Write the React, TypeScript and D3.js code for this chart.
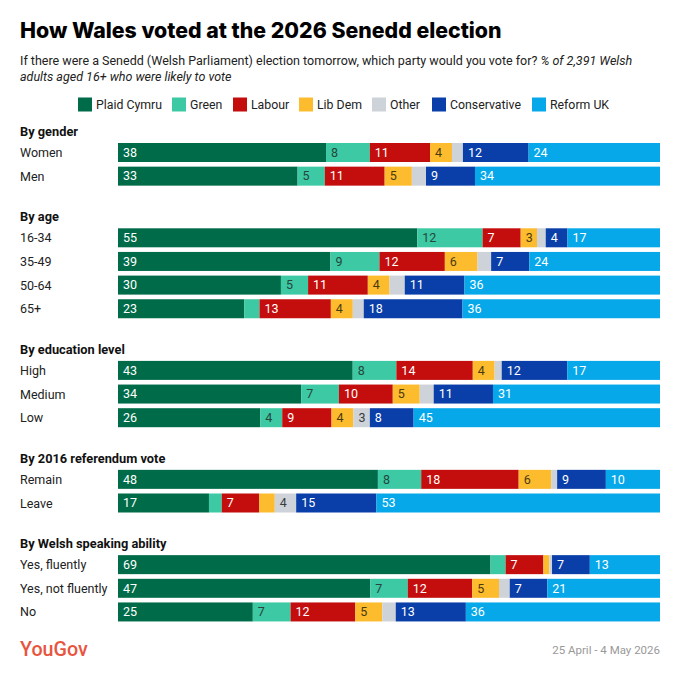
import * as d3 from 'd3'

const WIDTH = 680
const HEIGHT = 679

const PARTIES = ['Plaid Cymru', 'Green', 'Labour', 'Lib Dem', 'Other', 'Conservative', 'Reform UK']

const PARTY_COLORS = ['#006b48', '#3cc9a3', '#c40d0d', '#fdbb2e', '#ced2d9', '#0a3ea8', '#06a8ea']
const LABEL_COLORS = ['#fff', '#27453b', '#fff', '#4a3a10', '#3a3a3a', '#fff', '#fff']

const GROUPS = [
  'By gender',
  'By age',
  'By education level',
  'By 2016 referendum vote',
  'By Welsh speaking ability',
]

const ROW_LABELS = [
  ['Women', 'Men'],
  ['16-34', '35-49', '50-64', '65+'],
  ['High', 'Medium', 'Low'],
  ['Remain', 'Leave'],
  ['Yes, fluently', 'Yes, not fluently', 'No'],
]

// order: Plaid Cymru, Green, Labour, Lib Dem, Other, Conservative, Reform UK
// unlabelled slivers are estimated from their width
const ROW_VALUES = [
  [
    [38, 8, 11, 4, 2, 12, 24],
    [33, 5, 11, 5, 2.6, 9, 34],
  ],
  [
    [55, 12, 7, 3, 1.6, 4, 17],
    [39, 9, 12, 6, 2.5, 7, 24],
    [30, 5, 11, 4, 2.8, 11, 36],
    [23, 2.8, 13, 4, 2, 18, 36],
  ],
  [
    [43, 8, 14, 4, 1.3, 12, 17],
    [34, 7, 10, 5, 2.6, 11, 31],
    [26, 4, 9, 4, 3, 8, 45],
  ],
  [
    [48, 8, 18, 6, 1.1, 9, 10],
    [17, 2.4, 7, 2.9, 4, 15, 53],
  ],
  [
    [69, 2.8, 7, 1.1, 0.5, 7, 13],
    [47, 7, 12, 5, 2, 7, 21],
    [25, 7, 12, 5, 2.5, 13, 36],
  ],
]

const FONT = 'Roboto, "Noto Sans", sans-serif'

export default function App() {
  const barLeft = 118
  const barRight = 660
  const rowPitch = 23.65
  const barH = 19
  const groupGap = 38

  const x = d3.scaleLinear().domain([0, 1]).range([barLeft, barRight])

  const stack = d3
    .stack<number[]>()
    .keys(PARTIES.map((_, i) => String(i)))
    .value((d, k) => d[+k])
    .offset(d3.stackOffsetExpand)

  // slot units: one per row, headings add a fixed gap
  const y = d3.scaleLinear().domain([0, 1]).range([131.5, 131.5 + rowPitch])
  const gapUnits = groupGap / rowPitch

  let cursor = 0
  const groups = GROUPS.map((title, gi) => {
    const headY = y(cursor)
    const rows = ROW_VALUES[gi]
    const series = stack(rows)
    const rowEls = rows.map((vals, ri) => {
      const top = headY + 11.5 + ri * rowPitch
      return (
        <g key={ri}>
          <text x={20} y={top + barH / 2 + 4.5} fontSize={12.5} fill="#222">
            {ROW_LABELS[gi][ri]}
          </text>
          {series.map((s, pi) => {
            const x0 = x(s[ri][0])
            const x1 = x(s[ri][1])
            const v = vals[pi]
            return (
              <g key={pi}>
                <rect x={x0} y={top} width={Math.max(0, x1 - x0)} height={barH} fill={PARTY_COLORS[pi]} />
                {v >= 3 && (
                  <text x={x0 + 5} y={top + barH / 2 + 4.3} fontSize={12.5} fill={LABEL_COLORS[pi]}>
                    {v}
                  </text>
                )}
              </g>
            )
          })}
        </g>
      )
    })
    cursor += rows.length + gapUnits
    return (
      <g key={gi}>
        <text x={20} y={headY + 4.5} fontSize={12.8} fontWeight={700} fill="#111">
          {title}
        </text>
        {rowEls}
      </g>
    )
  })

  // legend, centred: swatch, 4px, text, 11px
  const legendW = [65, 32, 37, 44, 31, 71, 58]
  const legendTotal = d3.sum(legendW) + 18 * 7 + 11 * 6
  let lx = WIDTH / 2 + 3 - legendTotal / 2
  const legend = PARTIES.map((p, i) => {
    const gx = lx
    lx += 18 + legendW[i] + 11
    return (
      <g key={p} transform={`translate(${gx},97.5)`}>
        <rect width={14} height={14} fill={PARTY_COLORS[i]} />
        <text x={18} y={11.3} fontSize={12.3} fill="#222">
          {p}
        </text>
      </g>
    )
  })

  return (
    <svg
      width={WIDTH}
      height={HEIGHT}
      style={{ position: 'absolute', left: 0, top: 0, background: '#fff', fontFamily: FONT }}
    >
      <text x={20} y={37.5} fontSize={21.3} fontWeight={800} fill="#000" fontFamily="Inter, sans-serif">
        How Wales voted at the 2026 Senedd election
      </text>
      <text x={20} y={65} fontSize={12.5} fill="#222">
        If there were a Senedd (Welsh Parliament) election tomorrow, which party would you vote for?{' '}
        <tspan fontStyle="italic">% of 2,391 Welsh</tspan>
      </text>
      <text x={20} y={81} fontSize={12.5} fill="#222" fontStyle="italic">
        adults aged 16+ who were likely to vote
      </text>
      {legend}
      {groups}
      <text x={20} y={656} fontSize={19.7} fontWeight={500} fill="#e8553f">
        YouGov
      </text>
      <text x={660} y={653.5} fontSize={11.5} fill="#999" textAnchor="end">
        25 April - 4 May 2026
      </text>
    </svg>
  )
}
